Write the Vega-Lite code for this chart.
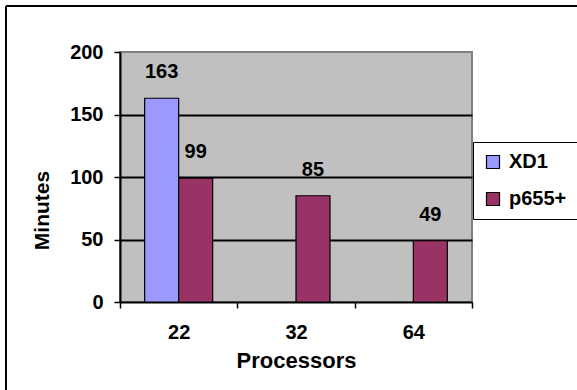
{
  "$schema": "https://vega.github.io/schema/vega-lite/v6.json",
  "autosize": "none",
  "width": 352,
  "height": 250,
  "padding": {"left": 120, "top": 52, "right": 105, "bottom": 88},
  "background": "white",
  "config": {
    "font": "Liberation Sans",
    "view": {"fill": "#C0C0C0", "stroke": "#808080", "strokeWidth": 2}
  },
  "layer": [
    {
      "data": {
        "values": [
          {"Processors": "22", "System": "XD1", "Minutes": 163},
          {"Processors": "22", "System": "p655+", "Minutes": 99},
          {"Processors": "32", "System": "p655+", "Minutes": 85},
          {"Processors": "64", "System": "p655+", "Minutes": 49}
        ]
      },
      "encoding": {
        "x": {
          "field": "Processors",
          "type": "nominal",
          "sort": ["22", "32", "64"],
          "scale": {"paddingInner": 0, "paddingOuter": 0},
          "axis": {
            "title": "Processors",
            "labelAngle": 0,
            "labelFont": "Liberation Sans",
            "labelFontSize": 20,
            "labelFontWeight": "bold",
            "labelColor": "black",
            "labelPadding": 14,
            "tickBand": "extent",
            "tickSize": 6,
            "tickWidth": 1.5,
            "tickColor": "black",
            "domainColor": "black",
            "domainWidth": 2,
            "titleFont": "Liberation Sans",
            "titleFontSize": 22,
            "titleFontWeight": "bold",
            "titleColor": "black",
            "titleBaseline": "alphabetic",
            "titleY": 65
          }
        },
        "xOffset": {
          "field": "System",
          "type": "nominal",
          "scale": {"domain": ["XD1", "p655+"], "paddingInner": 0, "paddingOuter": 0.7255}
        },
        "y": {
          "field": "Minutes",
          "type": "quantitative",
          "scale": {"domain": [0, 200], "nice": false},
          "axis": {
            "title": "Minutes",
            "values": [0, 50, 100, 150, 200],
            "labelFont": "Liberation Sans",
            "labelFontSize": 20,
            "labelFontWeight": "bold",
            "labelColor": "black",
            "labelPadding": 11,
            "tickSize": 6,
            "tickWidth": 1.5,
            "tickColor": "black",
            "domainColor": "black",
            "domainWidth": 2,
            "grid": true,
            "gridWidth": 1.8,
            "gridColor": {
              "condition": {"test": "datum.value == 0 || datum.value == 200", "value": "transparent"},
              "value": "black"
            },
            "titleFont": "Liberation Sans",
            "titleFontSize": 21,
            "titleFontWeight": "bold",
            "titleColor": "black",
            "titleAngle": -90,
            "titleAlign": "center",
            "titleBaseline": "alphabetic",
            "titleX": -72,
            "titleY": 158
          }
        }
      },
      "layer": [
        {
          "mark": {"type": "bar", "stroke": "black", "strokeWidth": 1.2},
          "encoding": {
            "color": {
              "field": "System",
              "type": "nominal",
              "scale": {"domain": ["XD1", "p655+"], "range": ["#9999FF", "#993366"]},
              "legend": {
                "title": null,
                "orient": "none",
                "legendX": 353,
                "legendY": 90,
                "direction": "vertical",
                "fillColor": "white",
                "strokeColor": "black",
                "padding": 10,
                "rowPadding": 17,
                "symbolType": "square",
                "symbolSize": 169,
                "symbolStrokeColor": "black",
                "symbolStrokeWidth": 1.2,
                "symbolOpacity": 1,
                "labelOffset": 6,
                "labelFont": "Liberation Sans",
                "labelFontSize": 20,
                "labelFontWeight": "bold",
                "labelColor": "black"
              }
            }
          }
        },
        {
          "mark": {
            "type": "text",
            "font": "Liberation Sans",
            "fontSize": 20,
            "fontWeight": "bold",
            "color": "black",
            "baseline": "alphabetic",
            "dy": -20
          },
          "encoding": {"text": {"field": "Minutes", "type": "quantitative"}}
        }
      ]
    },
    {
      "data": {"values": [{}]},
      "mark": {"type": "rule", "color": "black", "strokeWidth": 2, "clip": false},
      "encoding": {
        "x": {"value": -114},
        "x2": {"value": 460},
        "y": {"value": -46}
      }
    },
    {
      "data": {"values": [{}]},
      "mark": {"type": "rule", "color": "black", "strokeWidth": 2, "clip": false},
      "encoding": {
        "x": {"value": -114},
        "y": {"value": -46},
        "y2": {"value": 340}
      }
    }
  ]
}
